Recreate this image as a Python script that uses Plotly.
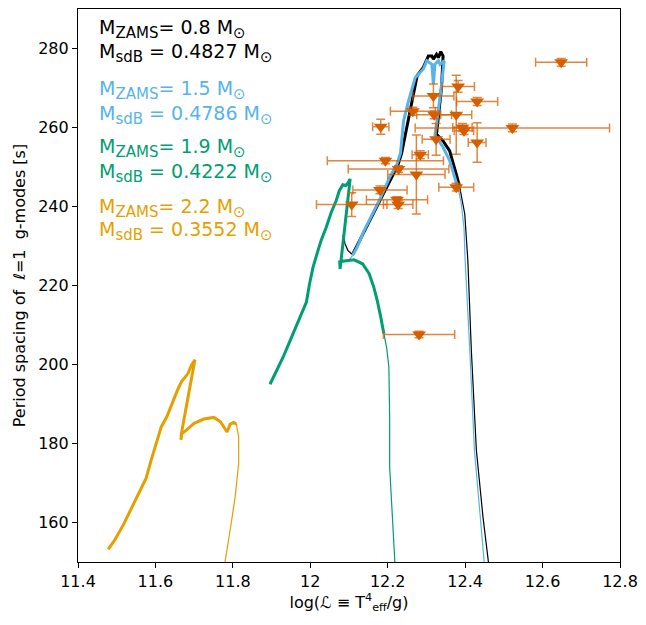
import plotly.graph_objects as go

# ---------------- data ----------------
# Observed stars (log L, period spacing) with errors
obs_x = [12.648, 12.382, 12.318, 12.431, 12.265, 12.320, 12.377, 12.182, 12.393, 12.522,
         12.397, 12.325, 12.431, 12.284, 12.194, 12.228, 12.274, 12.377, 12.180, 12.107,
         12.224, 12.227, 12.281]
obs_y = [276.5, 270.4, 268.0, 266.6, 264.1, 263.2, 263.2, 260.2, 260.0, 259.9,
         259.2, 257.0, 256.2, 253.1, 251.6, 249.5, 248.1, 244.9, 244.2, 240.5,
         241.7, 240.5, 207.6]
obs_xerr = [0.066, 0.042, 0.053, 0.053, 0.058, 0.045, 0.040, 0.021, 0.025, 0.251,
            0.025, 0.036, 0.023, 0.021, 0.150, 0.130, 0.074, 0.045, 0.070, 0.091,
            0.079, 0.038, 0.092]
obs_yerr = [1.0, 1.5, 3.0, 1.0, 1.0, 1.0, 10.0, 1.9, 1.0, 1.0,
            1.0, 4.0, 5.0, 1.0, 0.8, 0.8, 10.0, 1.0, 1.0, 3.0,
            0.8, 1.0, 0.8]

# Track 1: M_ZAMS = 0.8 (black)
blk_thin1_x = [12.084, 12.090, 12.097, 12.105, 12.109]
blk_thin1_y = [232.7, 230.5, 228.9, 228.0, 227.8]
blk_thick_x = [12.109, 12.122, 12.139, 12.160, 12.182, 12.205, 12.226, 12.236, 12.246, 12.255,
               12.262, 12.271, 12.276, 12.292, 12.305, 12.314, 12.318, 12.326, 12.331, 12.337,
               12.343, 12.339, 12.326, 12.343, 12.360, 12.377, 12.386]
blk_thick_y = [227.8, 230.3, 233.6, 237.8, 242.0, 246.6, 250.4, 253.5, 258.5, 263.0,
               266.5, 270.1, 273.1, 275.2, 278.1, 278.1, 277.3, 278.5, 277.7, 279.2,
               278.1, 270.1, 258.3, 256.6, 254.1, 248.2, 244.9]
blk_thin2_x = [12.386, 12.399, 12.407, 12.416, 12.429, 12.446, 12.460, 12.463]
blk_thin2_y = [244.9, 238.1, 226.3, 203.6, 178.3, 161.5, 150.1, 149.0]

# Track 2: M_ZAMS = 1.5 (sky blue)
blu_thin1_x = [12.097, 12.103, 12.109]
blu_thin1_y = [225.9, 226.8, 227.6]
blu_thick_x = [12.109, 12.120, 12.139, 12.160, 12.182, 12.203, 12.224, 12.233, 12.238, 12.241,
               12.254, 12.271, 12.292, 12.301, 12.314, 12.318, 12.322, 12.331, 12.335, 12.346,
               12.335, 12.322, 12.326, 12.343, 12.360, 12.377, 12.382]
blu_thick_y = [227.6, 229.5, 233.9, 238.1, 242.3, 247.0, 250.8, 253.5, 258.0, 261.7,
               266.8, 272.6, 274.8, 276.9, 276.0, 271.0, 276.0, 276.9, 276.0, 276.9,
               267.6, 257.9, 257.5, 255.0, 251.6, 246.5, 244.5]
blu_thin2_x = [12.382, 12.390, 12.397, 12.400, 12.412, 12.424, 12.439, 12.448, 12.450]
blu_thin2_y = [244.5, 240.7, 234.7, 226.3, 203.6, 178.3, 161.5, 150.1, 149.0]

# Track 3: M_ZAMS = 1.9 (bluish green)
grn_thick_x = [11.896, 11.909, 11.930, 11.952, 11.973, 11.990, 11.998, 12.007, 12.020, 12.028,
               12.041, 12.054, 12.067, 12.075, 12.084, 12.092, 12.097, 12.103, 12.077, 12.076,
               12.088, 12.113, 12.135, 12.152, 12.164, 12.173, 12.182, 12.190]
grn_thick_y = [195.0, 197.7, 201.9, 207.0, 212.0, 215.8, 220.4, 224.6, 228.9, 231.4,
               234.7, 238.5, 241.5, 244.0, 245.5, 245.3, 245.9, 247.0, 224.2, 226.0,
               226.2, 226.5, 225.5, 223.0, 219.6, 216.2, 212.0, 207.8]
grn_thin_x = [12.190, 12.197, 12.203, 12.205, 12.205, 12.211, 12.218, 12.219]
grn_thin_y = [207.8, 204.4, 199.4, 186.7, 174.1, 161.5, 150.1, 149.0]

# Track 4: M_ZAMS = 2.2 (orange)
org_thick_x = [11.478, 11.495, 11.517, 11.538, 11.559, 11.576, 11.589, 11.606, 11.615, 11.630,
               11.644, 11.657, 11.667, 11.678, 11.684, 11.693, 11.702, 11.667, 11.666, 11.668,
               11.674, 11.700, 11.725, 11.751, 11.768, 11.785, 11.793, 11.802, 11.809]
org_thick_y = [153.2, 155.6, 159.4, 163.6, 167.4, 171.2, 175.8, 181.7, 184.2, 186.9,
               190.5, 193.5, 195.6, 196.8, 197.7, 199.8, 201.2, 182.5, 180.9, 182.5,
               182.9, 185.1, 186.2, 186.6, 185.5, 182.9, 184.9, 185.3, 184.9]
org_thin_x = [11.809, 11.815, 11.815, 11.806, 11.793, 11.779, 11.778]
org_thin_y = [184.9, 181.7, 175.0, 166.5, 158.1, 150.5, 149.0]

x_ticks = [11.4, 11.6, 11.8, 12.0, 12.2, 12.4, 12.6, 12.8]
x_ticklabels = ["11.4", "11.6", "11.8", "12", "12.2", "12.4", "12.6", "12.8"]
y_ticks = [160, 180, 200, 220, 240, 260, 280]

zams_masses = ["0.8", "1.5", "1.9", "2.2"]
sdb_masses = ["0.4827", "0.4786", "0.4222", "0.3552"]
track_colors = ["#000000", "#56B4E9", "#009E73", "#E69F00"]

# ---------------- figure ----------------
FONT = "DejaVu Sans"
fig = go.Figure()

def add_line(x, y, color, width):
    fig.add_trace(go.Scatter(x=x, y=y, mode="lines",
                             line=dict(color=color, width=width, shape="linear"),
                             showlegend=False, hoverinfo="skip"))

add_line(blk_thin1_x, blk_thin1_y, "#000000", 1.2)
add_line(blk_thin2_x, blk_thin2_y, "#000000", 1.2)
add_line(blk_thick_x, blk_thick_y, "#000000", 3)
add_line(blu_thin1_x, blu_thin1_y, "#56B4E9", 1.2)
add_line(blu_thin2_x, blu_thin2_y, "#56B4E9", 1.2)
add_line(blu_thick_x, blu_thick_y, "#56B4E9", 3)
add_line(grn_thin_x, grn_thin_y, "#009E73", 1.2)
add_line(grn_thick_x, grn_thick_y, "#009E73", 3)
add_line(org_thin_x, org_thin_y, "#E69F00", 1.2)
add_line(org_thick_x, org_thick_y, "#E69F00", 3)

err_col = "rgba(213,94,0,0.75)"
fig.add_trace(go.Scatter(
    x=obs_x, y=obs_y, mode="markers",
    marker=dict(symbol="triangle-down", size=12, color="#D55E00", line=dict(width=0)),
    error_x=dict(type="data", array=obs_xerr, visible=True, color=err_col, thickness=1.5, width=4.5),
    error_y=dict(type="data", array=obs_yerr, visible=True, color=err_col, thickness=1.5, width=4.5),
    showlegend=False, hoverinfo="skip"))

# text labels (line centres, in data units)
line_y = [(284.9, 278.9), (269.5, 263.2), (254.9, 248.6), (239.5, 233.7)]
SUB = '<sub><span style="font-size:15px">{}</span></sub>'
for mz, ms, col, (ya, yb) in zip(zams_masses, sdb_masses, track_colors, line_y):
    l1 = "M" + SUB.format("ZAMS") + "= " + mz + " M" + SUB.format("⊙")
    l2 = "M" + SUB.format("sdB") + " = " + ms + " M" + SUB.format("⊙")
    for txt, yy in ((l1, ya), (l2, yb)):
        fig.add_annotation(x=11.449, y=yy, xref="x", yref="y", text=txt, showarrow=False,
                           xanchor="left", yanchor="middle",
                           font=dict(family=FONT, size=19, color=col))

axis_common = dict(showline=True, linecolor="black", linewidth=1.2, mirror=True,
                   ticks="outside", ticklen=5, tickwidth=1, tickcolor="black",
                   showgrid=False, zeroline=False,
                   tickfont=dict(family=FONT, size=16, color="black"))

fig.update_xaxes(range=[11.4, 12.8], tickvals=x_ticks, ticktext=x_ticklabels,
                 title=dict(text="log(<i>ℒ</i> ≡ T<sup>4</sup><sub>eff</sub>/g)",
                            font=dict(family=FONT, size=16, color="black"), standoff=6),
                 **axis_common)
fig.update_yaxes(range=[150, 290], tickvals=y_ticks,
                 title=dict(text="Period spacing of  <i>ℓ</i>=1  g-modes [s]",
                            font=dict(family=FONT, size=16, color="black"), standoff=8),
                 **axis_common)

fig.update_layout(width=646, height=625,
                  margin=dict(l=78, r=19, t=8, b=63),
                  plot_bgcolor="white", paper_bgcolor="white",
                  font=dict(family=FONT))

fig.write_html("out.html")
